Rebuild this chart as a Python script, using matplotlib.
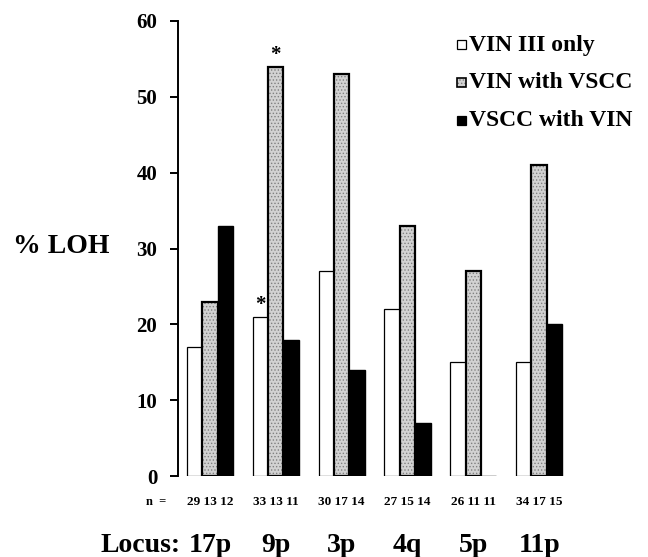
import matplotlib
matplotlib.use("Agg")
import matplotlib.pyplot as plt
from matplotlib.patches import Rectangle
import numpy as np

plt.rcParams['font.family'] = ['Liberation Serif', 'DejaVu Serif']
plt.rcParams['font.weight'] = 'bold'
plt.rcParams['hatch.linewidth'] = 0.6

loci = ['17p', '9p', '3p', '4q', '5p', '11p']
vin_only = [17, 21, 27, 22, 15, 15]
vin_vscc = [23, 54, 53, 33, 27, 41]
vscc_vin = [33, 18, 14, 7, 0, 20]
n_only = [29, 33, 30, 27, 26, 34]
n_vin = [13, 13, 17, 15, 11, 17]
n_vscc = [12, 11, 14, 14, 11, 15]
labels = ['VIN III only', 'VIN with VSCC', 'VSCC with VIN']

GRAY_FACE = '#d2d2d2'
GRAY_DOTS = '#808080'

W, H = 648, 557
fig = plt.figure(figsize=(W / 100, H / 100), dpi=100)
ax = fig.add_axes([178 / W, 81 / H, (605 - 178) / W, (476 - 21) / H])

x = np.arange(len(loci))
bw = 0.233

ax.bar(x - bw, vin_only, bw, color='white', edgecolor='black', linewidth=0.9)
# stippled bars: texture first, outline on top
ax.bar(x, vin_vscc, bw, color=GRAY_FACE, edgecolor=GRAY_DOTS, hatch='.....', linewidth=0)
ax.bar(x, vin_vscc, bw, fill=False, edgecolor='black', linewidth=1.6)
ax.bar(x + bw, vscc_vin, bw, color='black', edgecolor='black', linewidth=1.0)

# significance marks on 9p
ax.annotate('*', (x[1] - bw, vin_only[1]), xytext=(0, 1), textcoords='offset points',
            ha='center', va='bottom', fontsize=15)
ax.annotate('*', (x[1], vin_vscc[1]), xytext=(0, 1), textcoords='offset points',
            ha='center', va='bottom', fontsize=15)

ax.set_xlim(-0.486, 6.0)
ax.set_ylim(0, 60)
ax.set_yticks(range(0, 61, 10))
ax.tick_params(axis='y', direction='out', length=6, width=1.4, pad=9, labelsize=15)
ax.tick_params(axis='x', bottom=False, labelbottom=False)
for s in ['top', 'right', 'bottom']:
    ax.spines[s].set_visible(False)
ax.spines['left'].set_linewidth(1.4)
for t in ax.get_yticklabels():
    t.set_fontweight('bold')

# sample sizes and locus names under the groups
tr = ax.get_xaxis_transform()
ax.text(-0.82, -0.057, 'n  =', transform=tr, ha='center', va='center', fontsize=9)
for i in range(len(loci)):
    ax.text(x[i], -0.057, '%d %d %d' % (n_only[i], n_vin[i], n_vscc[i]),
            transform=tr, ha='center', va='center', fontsize=9.5)
    ax.text(x[i], -0.152, loci[i], transform=tr, ha='center', va='center', fontsize=20)
ax.text(-0.45, -0.152, 'Locus:', transform=tr, ha='right', va='center', fontsize=20)

fig.text(61 / W, 1 - 247 / H, '% LOH', ha='center', va='center', fontsize=20)

# legend drawn by hand
rows = [45, 83, 121]
for k, (lab, y) in enumerate(zip(labels, rows)):
    yf = 1 - (y + 4) / H
    if k == 0:
        fig.add_artist(Rectangle((457 / W, yf), 9 / W, 9 / H, transform=fig.transFigure,
                                 facecolor='white', edgecolor='black', linewidth=0.9))
    elif k == 1:
        fig.add_artist(Rectangle((457 / W, yf), 9 / W, 9 / H, transform=fig.transFigure,
                                 facecolor=GRAY_FACE, edgecolor=GRAY_DOTS, hatch='.....', linewidth=0))
        fig.add_artist(Rectangle((457 / W, yf), 9 / W, 9 / H, transform=fig.transFigure,
                                 fill=False, edgecolor='black', linewidth=1.2))
    else:
        fig.add_artist(Rectangle((457 / W, yf), 9 / W, 9 / H, transform=fig.transFigure,
                                 facecolor='black', edgecolor='black', linewidth=0.9))
    fig.text(469 / W, 1 - y / H, lab, ha='left', va='center', fontsize=17)

fig.savefig('out.png', dpi=100)
